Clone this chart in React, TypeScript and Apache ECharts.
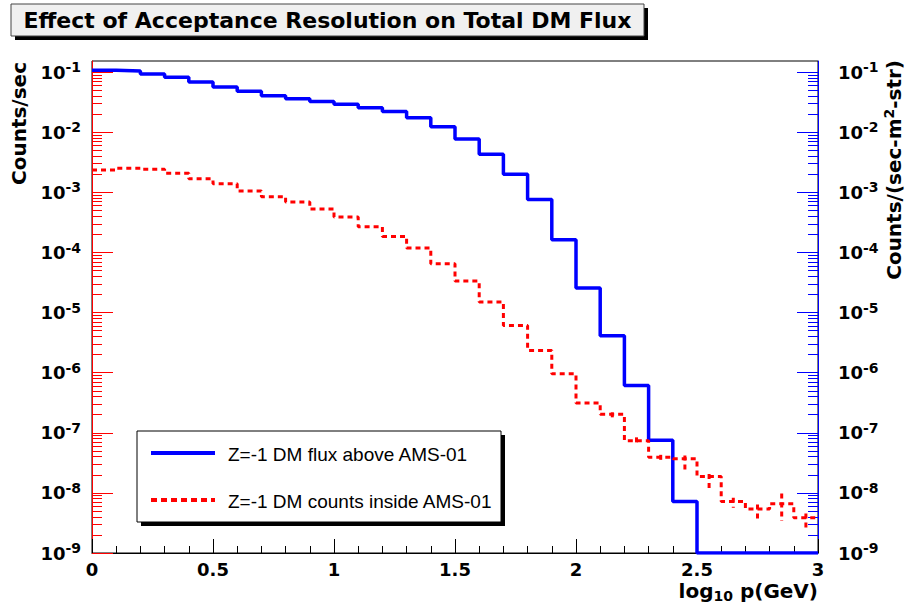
import React, { useEffect, useRef } from "react";
import * as echarts from "echarts";

// ---- data ----
const binEdges = [
  0, 0.1, 0.2, 0.3, 0.4, 0.5, 0.6, 0.7, 0.8, 0.9, 1.0, 1.1, 1.2, 1.3, 1.4, 1.5,
  1.6, 1.7, 1.8, 1.9, 2.0, 2.1, 2.2, 2.3, 2.4, 2.5, 2.6, 2.7, 2.8, 2.9, 3.0,
];

// Z=-1 DM flux above AMS-01 (empty bins drawn at the frame bottom, 1e-9)
const fluxAbove = [
  0.1075, 0.1047, 0.0933, 0.0822, 0.0687, 0.0568, 0.0481, 0.0407, 0.0363, 0.0324,
  0.0292, 0.0257, 0.0221, 0.0175, 0.0124, 0.0077, 0.00431, 0.00201, 7.6e-4, 1.63e-4,
  2.56e-5, 4.13e-6, 6.1e-7, 7.5e-8, 7.2e-9, 1e-9, 1e-9, 1e-9, 1e-9, 1e-9,
];

// Z=-1 DM counts inside AMS-01
const countsInside = [
  2.37e-3, 2.53e-3, 2.43e-3, 2.08e-3, 1.68e-3, 1.39e-3, 1.06e-3, 8.5e-4, 6.9e-4, 5.3e-4,
  3.9e-4, 2.67e-4, 1.85e-4, 1.19e-4, 6.5e-5, 3.34e-5, 1.5e-5, 6.1e-6, 2.35e-6, 9.6e-7,
  3.14e-7, 2.03e-7, 7.4e-8, 3.93e-8, 3.7e-8, 1.87e-8, 7.2e-9, 5.4e-9, 6.6e-9, 3.86e-9,
];
const countsErrLow = [
  0, 0, 0, 0, 0, 0, 0, 0, 0, 0, 0, 0, 0, 0, 0, 0, 0, 0, 0, 0,
  0, 2.6e-8, 1.2e-8, 5.6e-9, 1.4e-8, 7.3e-9, 1.55e-9, 1.8e-9, 3.2e-9, 1.55e-9,
];
const countsErrHigh = [
  0, 0, 0, 0, 0, 0, 0, 0, 0, 0, 0, 0, 0, 0, 0, 0, 0, 0, 0, 0,
  0, 1.6e-8, 1.0e-8, 3.7e-9, 4.9e-9, 2.0e-9, 1.1e-9, 1.0e-9, 3.2e-9, 0.7e-9,
];

const xTickLabels = ["0", "0.5", "1", "1.5", "2", "2.5", "3"];
const majorYTicks = [1e-9, 1e-8, 1e-7, 1e-6, 1e-5, 1e-4, 1e-3, 1e-2, 1e-1];
const minorMultipliers = [2, 3, 4, 5, 6, 7, 8, 9];

const Y_MIN = 1e-9;
const Y_MAX = 0.1536;

const TITLE = "Effect of Acceptance Resolution on Total DM Flux";
const LEGEND_1 = "Z=-1 DM flux above AMS-01";
const LEGEND_2 = "Z=-1 DM counts inside AMS-01";

const BOLD_FONT = '"DejaVu Sans", "Liberation Sans", sans-serif';
const LEGEND_FONT = '"Liberation Sans", Arial, sans-serif';

function histPoints(values: number[]) {
  const pts: number[][] = values.map((v, i) => [binEdges[i], v]);
  pts.push([binEdges[values.length], values[values.length - 1]]);
  return pts;
}

export default function App() {
  const ref = useRef<HTMLDivElement>(null);

  useEffect(() => {
    if (!ref.current) return;
    const chart = echarts.init(ref.current, undefined, { renderer: "svg" });

    const minorYTicks: number[] = [];
    majorYTicks.forEach((m) => {
      minorMultipliers.forEach((k) => {
        const v = m * k;
        if (v < Y_MAX) minorYTicks.push(v);
      });
    });

    const errData = countsInside
      .map((v, i) => {
        if (!countsErrLow[i] && !countsErrHigh[i]) return null;
        const xc = (binEdges[i] + binEdges[i + 1]) / 2;
        return [xc, Math.max(v - countsErrLow[i], Y_MIN), v + countsErrHigh[i]];
      })
      .filter((d) => d !== null);

    const labelRich = {
      b: { fontFamily: BOLD_FONT, fontWeight: "bold", fontSize: 18, lineHeight: 24, color: "#000" },
      s: { fontFamily: BOLD_FONT, fontWeight: "bold", fontSize: 14, lineHeight: 14, verticalAlign: "top", color: "#000" },
    };
    const expFormatter = (v: number) => `{b|10}{s|${Math.round(Math.log10(v))}}`;

    const logAxis = (
      position: string,
      color: string,
      ticks: number[],
      len: number,
      label: any,
      showLine: boolean
    ) => ({
      type: "log",
      logBase: 10,
      min: Y_MIN,
      max: Y_MAX,
      position,
      axisLine: { show: showLine, onZero: false, lineStyle: { color, width: 1 } },
      axisTick: { show: true, inside: true, length: len, customValues: ticks, lineStyle: { color, width: 1 } },
      minorTick: { show: false },
      splitLine: { show: false },
      axisLabel: label,
    });

    const option: any = {
      animation: false,
      backgroundColor: "#ffffff",
      grid: {
        left: 92,
        right: 89,
        top: 61,
        bottom: 56,
        show: true,
        borderColor: "#000",
        borderWidth: 1,
        backgroundColor: "transparent",
      },
      xAxis: {
        type: "value",
        min: 0,
        max: 3,
        interval: 0.5,
        axisLine: { onZero: false, lineStyle: { color: "#000", width: 1 } },
        axisTick: { inside: true, length: 14, lineStyle: { color: "#000" } },
        minorTick: { show: true, splitNumber: 5, length: 7, lineStyle: { color: "#000" } },
        splitLine: { show: false },
        minorSplitLine: { show: false },
        axisLabel: {
          fontFamily: BOLD_FONT,
          fontWeight: "bold",
          fontSize: 18,
          color: "#000",
          margin: 7,
          formatter: (v: number) => xTickLabels[Math.round(v * 2)] ?? String(v),
        },
      },
      yAxis: [
        logAxis("left", "#ff0000", majorYTicks, 21, {
          show: true,
          customValues: majorYTicks,
          margin: 11,
          formatter: expFormatter,
          rich: labelRich,
        }, true),
        logAxis("left", "#ff0000", minorYTicks, 10, { show: false }, false),
        logAxis("right", "#0000ff", majorYTicks, 21, {
          show: true,
          customValues: majorYTicks,
          margin: 20,
          formatter: expFormatter,
          rich: labelRich,
        }, true),
        logAxis("right", "#0000ff", minorYTicks, 10, { show: false }, false),
      ],
      series: [
        {
          name: LEGEND_1,
          type: "line",
          step: "end",
          xAxisIndex: 0,
          yAxisIndex: 0,
          showSymbol: false,
          symbol: "none",
          data: histPoints(fluxAbove),
          lineStyle: { color: "#0000ff", width: 3.5 },
          z: 3,
        },
        {
          name: LEGEND_2,
          type: "line",
          step: "end",
          xAxisIndex: 0,
          yAxisIndex: 0,
          showSymbol: false,
          symbol: "none",
          data: histPoints(countsInside),
          lineStyle: { color: "#ff0000", width: 3, type: [5, 4] },
          z: 4,
        },
        {
          type: "custom",
          xAxisIndex: 0,
          yAxisIndex: 0,
          clip: true,
          data: errData,
          encode: { x: 0, y: [1, 2] },
          renderItem: (params: any, api: any) => {
            const x = api.value(0);
            const p1 = api.coord([x, api.value(2)]);
            const p2 = api.coord([x, api.value(1)]);
            return {
              type: "line",
              shape: { x1: p1[0], y1: p1[1], x2: p2[0], y2: p2[1] },
              style: { stroke: "#ff0000", lineWidth: 3, lineDash: [5, 4] },
            };
          },
          z: 4,
        },
      ],
      graphic: [
        // title box with shadow
        { type: "rect", z: 100, shape: { x: 15, y: 8, width: 633, height: 32 }, style: { fill: "#000" } },
        { type: "rect", z: 101, shape: { x: 11, y: 4, width: 633, height: 32 }, style: { fill: "#f0f0f0", stroke: "#444", lineWidth: 1 } },
        {
          type: "text",
          z: 102,
          x: 327.5,
          y: 20,
          style: {
            text: TITLE,
            font: `bold 22px ${BOLD_FONT}`,
            fill: "#000",
            align: "center",
            verticalAlign: "middle",
          },
        },
        // legend box with shadow
        { type: "rect", z: 100, shape: { x: 141, y: 435, width: 364, height: 91 }, style: { fill: "#000" } },
        { type: "rect", z: 101, shape: { x: 137, y: 431, width: 364, height: 91 }, style: { fill: "#fff", stroke: "#000", lineWidth: 1 } },
        { type: "line", z: 102, shape: { x1: 151, y1: 453, x2: 215, y2: 453 }, style: { stroke: "#0000ff", lineWidth: 4 } },
        { type: "line", z: 102, shape: { x1: 151, y1: 500, x2: 215, y2: 500 }, style: { stroke: "#ff0000", lineWidth: 4, lineDash: [6, 4] } },
        {
          type: "text",
          z: 102,
          x: 228,
          y: 454,
          style: { text: LEGEND_1, font: `19px ${LEGEND_FONT}`, fill: "#000", align: "left", verticalAlign: "middle" },
        },
        {
          type: "text",
          z: 102,
          x: 228,
          y: 501,
          style: { text: LEGEND_2, font: `19px ${LEGEND_FONT}`, fill: "#000", align: "left", verticalAlign: "middle" },
        },
        // axis titles
        {
          type: "text",
          z: 102,
          x: 19,
          y: 62,
          rotation: Math.PI / 2,
          style: {
            text: "Counts/sec",
            font: `bold 20px ${BOLD_FONT}`,
            fill: "#000",
            align: "right",
            verticalAlign: "middle",
          },
        },
        {
          type: "text",
          z: 102,
          x: 894,
          y: 60,
          rotation: Math.PI / 2,
          style: {
            text: "{t|Counts/(sec-m}{p|2}{t|-str)}",
            align: "right",
            verticalAlign: "middle",
            rich: {
              t: { fontFamily: BOLD_FONT, fontWeight: "bold", fontSize: 20, lineHeight: 24, fill: "#000" },
              p: { fontFamily: BOLD_FONT, fontWeight: "bold", fontSize: 14, lineHeight: 14, verticalAlign: "top", fill: "#000" },
            },
          },
        },
        {
          type: "text",
          z: 102,
          x: 818,
          y: 591,
          style: {
            text: "{t|log}{d|10}{t| p(GeV)}",
            align: "right",
            verticalAlign: "middle",
            rich: {
              t: { fontFamily: BOLD_FONT, fontWeight: "bold", fontSize: 20, lineHeight: 24, fill: "#000" },
              d: { fontFamily: BOLD_FONT, fontWeight: "bold", fontSize: 14, lineHeight: 14, verticalAlign: "bottom", fill: "#000" },
            },
          },
        },
      ],
    };

    chart.setOption(option);
    return () => {
      chart.dispose();
    };
  }, []);

  return (
    <div
      ref={ref}
      style={{ position: "fixed", left: 0, top: 0, width: 907, height: 609, background: "#fff" }}
    />
  );
}
